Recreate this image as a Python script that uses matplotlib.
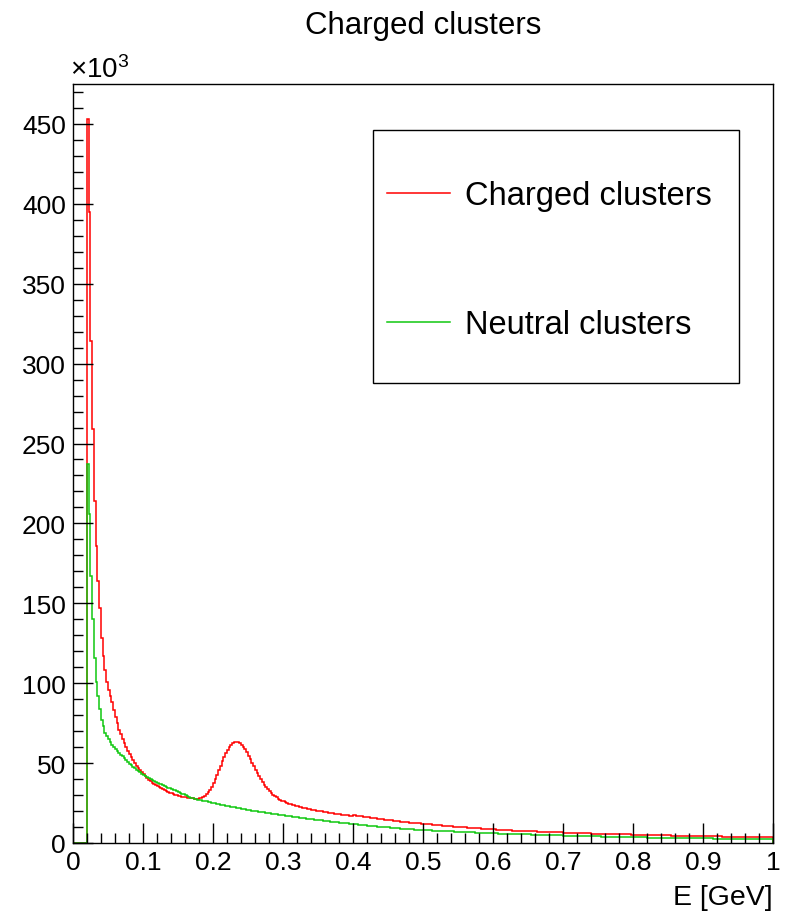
import numpy as np
import matplotlib
matplotlib.use("Agg")
import matplotlib.pyplot as plt
from matplotlib.patches import Rectangle

plt.rcParams['font.family'] = ['Liberation Sans', 'DejaVu Sans']
plt.rcParams['mathtext.fontset'] = 'custom'
plt.rcParams['mathtext.rm'] = 'Liberation Sans'

# Histogram binning: 400 bins over 0..1 GeV
E_MIN, E_MAX, N_BINS = 0.0, 1.0, 400

# Bin contents in units of 10^3 entries
charged = [
    0, 0, 0, 0, 0, 0, 0, 0,
    453, 395, 314, 259, 214, 186, 164, 147, 128, 117,
    108, 101, 96, 92, 88, 83, 79, 75, 71, 68,
    65, 62.5, 60, 57.7, 55.6, 53.6, 51.7, 50.0, 48.4, 46.9,
    45.5, 44.2, 43.0, 41.8, 40.7, 39.7, 38.7, 37.8, 37.0, 36.2,
    35.5, 34.8, 34.2, 33.6, 33.0, 32.5, 32.0, 31.5, 31.1, 30.7,
    30.3, 29.9, 29.6, 29.3, 29.0, 28.8, 28.6, 28.4, 28.2, 28.0,
    27.9, 27.8, 27.7, 27.7, 27.9, 28.3, 28.9, 29.6, 30.5, 31.8,
    33.3, 35.2, 37.5, 40.0, 42.8, 45.6, 48.4, 51.2, 53.9, 56.3,
    58.4, 60.1, 61.5, 62.5, 63.1, 63.3, 63.1, 62.5, 61.5, 60.2,
    58.6, 56.7, 54.6, 52.4, 50.2, 48.0, 45.9, 43.8, 41.8, 39.9,
    38.1, 36.5, 35.0, 33.6, 32.3, 31.2, 30.2, 29.3, 28.5, 27.8,
    27.1, 26.5, 26.0, 25.5, 25.0, 24.6, 24.2, 23.8, 23.5, 23.2,
    22.9, 22.6, 22.3, 22.1, 21.8, 21.6, 21.3, 21.1, 20.9, 20.7,
    20.5, 20.3, 20.1, 19.9, 19.7, 19.5, 19.3, 19.1, 18.9, 18.7,
    18.5, 18.4, 18.2, 18.0, 17.9, 17.7, 17.6, 17.4, 17.3, 17.2,
    17.1, 17.1, 17.2, 17.2, 17.1, 17.0, 16.8, 16.6, 16.4, 16.3,
    16.1, 16.0, 15.8, 15.7, 15.5, 15.4, 15.2, 15.1, 14.9, 14.8,
    14.6, 14.5, 14.4, 14.2, 14.1, 14.0, 13.8, 13.7, 13.6, 13.4,
    13.3, 13.2, 13.1, 13.0, 12.8, 12.7, 12.6, 12.5, 12.4, 12.3,
    12.2, 12.1, 12.0, 11.9, 11.8, 11.7, 11.6, 11.5, 11.4, 11.3,
    11.2, 11.1, 11.0, 10.9, 10.8, 10.7, 10.6, 10.5, 10.4, 10.3,
    10.2, 10.1, 10.0, 9.9, 9.9, 9.8, 9.7, 9.6, 9.5, 9.5,
    9.4, 9.3, 9.2, 9.2, 9.1, 9.0, 8.9, 8.9, 8.8, 8.7,
    8.7, 8.6, 8.5, 8.5, 8.4, 8.3, 8.3, 8.2, 8.1, 8.1,
    8.0, 8.0, 7.9, 7.8, 7.8, 7.7, 7.7, 7.6, 7.6, 7.5,
    7.5, 7.4, 7.4, 7.3, 7.3, 7.2, 7.2, 7.1, 7.1, 7.0,
    7.0, 7.0, 6.9, 6.9, 6.8, 6.8, 6.8, 6.7, 6.7, 6.6,
    6.6, 6.6, 6.5, 6.5, 6.4, 6.4, 6.4, 6.3, 6.3, 6.3,
    6.2, 6.2, 6.2, 6.1, 6.1, 6.0, 6.0, 6.0, 5.9, 5.9,
    5.9, 5.8, 5.8, 5.8, 5.7, 5.7, 5.7, 5.6, 5.6, 5.6,
    5.5, 5.5, 5.5, 5.5, 5.4, 5.4, 5.4, 5.3, 5.3, 5.3,
    5.3, 5.2, 5.2, 5.2, 5.1, 5.1, 5.1, 5.1, 5.0, 5.0,
    5.0, 5.0, 4.9, 4.9, 4.9, 4.9, 4.8, 4.8, 4.8, 4.8,
    4.7, 4.7, 4.7, 4.7, 4.6, 4.6, 4.6, 4.6, 4.5, 4.5,
    4.5, 4.5, 4.5, 4.4, 4.4, 4.4, 4.4, 4.4, 4.3, 4.3,
    4.3, 4.3, 4.3, 4.2, 4.2, 4.2, 4.2, 4.2, 4.1, 4.1,
    4.1, 4.1, 4.1, 4.0, 4.0, 4.0, 4.0, 4.0, 3.9, 3.9,
    3.9, 3.9, 3.9, 3.9, 3.8, 3.8, 3.8, 3.8, 3.8, 3.7,
    3.7, 3.7, 3.7, 3.7, 3.7, 3.6, 3.6, 3.6, 3.6, 3.6,
    3.6, 3.5,
]

neutral = [
    0, 0, 0, 0, 0, 0, 0, 0,
    237, 206, 167, 140, 116, 101, 92, 84, 77, 73,
    69, 67, 65, 63, 61.5, 60, 58.7, 57.5, 56.3, 55.2,
    54.2, 53.0, 51.8, 50.7, 49.6, 48.6, 47.6, 46.7, 45.8, 45.0,
    44.2, 43.4, 42.6, 41.9, 41.2, 40.5, 39.9, 39.3, 38.7, 38.1,
    37.6, 37.1, 36.6, 36.1, 35.6, 35.1, 34.6, 34.2, 33.8, 33.4,
    32.9, 32.4, 31.9, 31.4, 30.9, 30.4, 29.9, 29.4, 28.9, 28.4,
    28.0, 27.7, 27.5, 27.2, 27.0, 26.7, 26.5, 26.2, 26.0, 25.7,
    25.5, 25.2, 25.0, 24.8, 24.5, 24.3, 24.0, 23.8, 23.6, 23.3,
    23.1, 22.9, 22.6, 22.4, 22.2, 22.0, 21.8, 21.6, 21.4, 21.2,
    21.0, 20.8, 20.6, 20.4, 20.3, 20.1, 19.9, 19.7, 19.6, 19.4,
    19.2, 19.1, 18.9, 18.7, 18.6, 18.4, 18.2, 18.1, 17.9, 17.8,
    17.6, 17.4, 17.3, 17.1, 17.0, 16.8, 16.7, 16.5, 16.4, 16.2,
    16.1, 15.9, 15.8, 15.6, 15.5, 15.3, 15.2, 15.0, 14.9, 14.8,
    14.6, 14.5, 14.4, 14.2, 14.1, 14.0, 13.8, 13.7, 13.6, 13.4,
    13.3, 13.2, 13.1, 12.9, 12.8, 12.7, 12.6, 12.4, 12.3, 12.2,
    12.0, 11.9, 11.8, 11.7, 11.6, 11.5, 11.3, 11.2, 11.1, 11.0,
    10.9, 10.8, 10.7, 10.6, 10.5, 10.4, 10.3, 10.2, 10.1, 10.0,
    9.9, 9.8, 9.7, 9.6, 9.5, 9.4, 9.3, 9.2, 9.1, 9.0,
    8.9, 8.9, 8.8, 8.7, 8.6, 8.5, 8.5, 8.4, 8.3, 8.2,
    8.2, 8.2, 8.1, 8.1, 8.0, 7.9, 7.9, 7.8, 7.8, 7.7,
    7.7, 7.6, 7.6, 7.5, 7.5, 7.4, 7.4, 7.3, 7.2, 7.2,
    7.1, 7.1, 7.0, 7.0, 6.9, 6.9, 6.8, 6.8, 6.7, 6.7,
    6.6, 6.6, 6.5, 6.5, 6.4, 6.4, 6.3, 6.3, 6.2, 6.2,
    6.1, 6.1, 6.1, 6.0, 6.0, 5.9, 5.9, 5.9, 5.8, 5.8,
    5.8, 5.7, 5.7, 5.6, 5.6, 5.6, 5.5, 5.5, 5.5, 5.4,
    5.4, 5.4, 5.3, 5.3, 5.2, 5.2, 5.2, 5.1, 5.1, 5.1,
    5.0, 5.0, 5.0, 4.9, 4.9, 4.9, 4.8, 4.8, 4.8, 4.7,
    4.7, 4.7, 4.6, 4.6, 4.6, 4.5, 4.5, 4.5, 4.5, 4.4,
    4.4, 4.4, 4.3, 4.3, 4.3, 4.3, 4.2, 4.2, 4.2, 4.2,
    4.1, 4.1, 4.1, 4.1, 4.0, 4.0, 4.0, 4.0, 3.9, 3.9,
    3.9, 3.9, 3.8, 3.8, 3.8, 3.8, 3.7, 3.7, 3.7, 3.7,
    3.6, 3.6, 3.6, 3.6, 3.6, 3.5, 3.5, 3.5, 3.5, 3.5,
    3.4, 3.4, 3.4, 3.4, 3.4, 3.3, 3.3, 3.3, 3.3, 3.3,
    3.2, 3.2, 3.2, 3.2, 3.2, 3.1, 3.1, 3.1, 3.1, 3.1,
    3.0, 3.0, 3.0, 3.0, 3.0, 3.0, 2.9, 2.9, 2.9, 2.9,
    2.9, 2.9, 2.8, 2.8, 2.8, 2.8, 2.8, 2.8, 2.7, 2.7,
    2.7, 2.7, 2.7, 2.7, 2.6, 2.6, 2.6, 2.6, 2.6, 2.6,
    2.6, 2.5, 2.5, 2.5, 2.5, 2.5, 2.5, 2.5, 2.4, 2.4,
    2.4, 2.4, 2.4, 2.4, 2.4, 2.4, 2.3, 2.3, 2.3, 2.3,
    2.3, 2.3,
]

labels = ['Charged clusters', 'Neutral clusters']
colors = ['#ff0000', '#10c810']

edges = np.linspace(E_MIN, E_MAX, N_BINS + 1)
assert len(charged) == N_BINS and len(neutral) == N_BINS

fig = plt.figure(figsize=(7.88, 9.12), dpi=100)
ax = fig.add_axes([0.0926, 0.0746, 0.8883, 0.8322])

ax.stairs(charged, edges, color=colors[0], lw=1.1, label=labels[0])
ax.stairs(neutral, edges, color=colors[1], lw=1.1, label=labels[1])

ax.set_xlim(0, 1)
ax.set_ylim(0, 475)
ax.set_xticks(np.arange(0, 1.01, 0.1))
ax.set_xticklabels(['0', '0.1', '0.2', '0.3', '0.4', '0.5', '0.6', '0.7', '0.8', '0.9', '1'])
ax.set_xticks(np.arange(0, 1.001, 0.02), minor=True)
ax.set_yticks(np.arange(0, 451, 50))
ax.set_yticks(np.arange(0, 475, 10), minor=True)

ax.tick_params(which='both', direction='in', top=False, right=False,
               width=1.0, color='black', labelsize=19)
ax.tick_params(which='major', length=14.5)
ax.tick_params(which='minor', length=7)
ax.tick_params(axis='x', pad=5)
ax.tick_params(axis='y', pad=5)
for s in ax.spines.values():
    s.set_linewidth(1.0)

ax.set_xlabel('E [GeV]', fontsize=20.5, loc='right', labelpad=7)
ax.set_title('Charged clusters', fontsize=22.5, pad=37)
fig.text(70 / 788, 1 - 78 / 912, r'$\mathregular{\times10^{3}}$', fontsize=20,
         ha='left', va='baseline')

# legend box
fig.patches.append(Rectangle((0.473, 0.579), 0.4649, 0.2774, transform=fig.transFigure,
                             fill=False, edgecolor='black', lw=1.0))
ax.legend(loc='center left', bbox_to_anchor=(0.4704, 0.7136), bbox_transform=fig.transFigure,
          frameon=False, fontsize=23.5, borderpad=0, handlelength=1.93,
          handletextpad=0.46, labelspacing=3.01)

fig.savefig('out.png', dpi=100)
